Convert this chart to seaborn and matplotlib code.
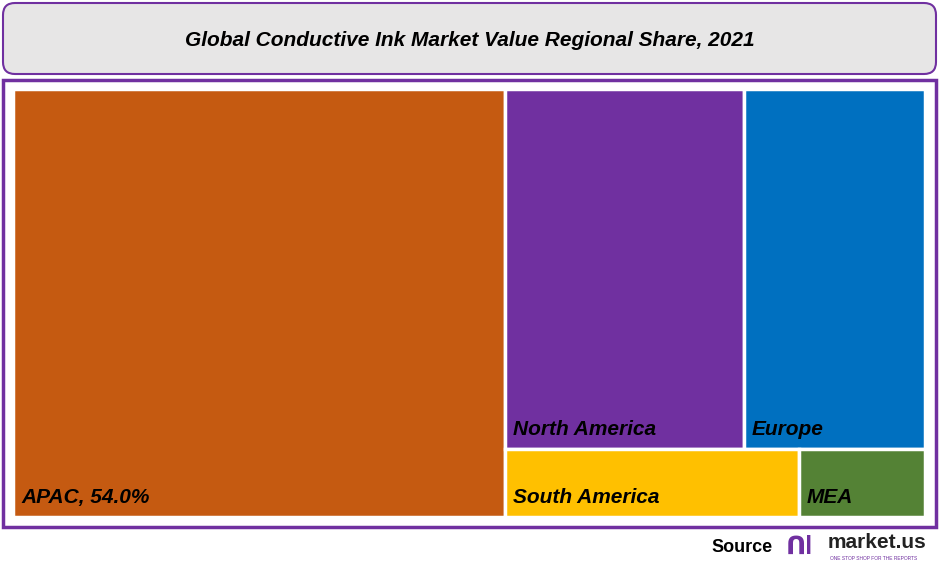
import matplotlib
matplotlib.use("Agg")
import matplotlib.pyplot as plt
from matplotlib.patches import Rectangle, FancyBboxPatch
import seaborn as sns

sns.set_theme(style="white")
plt.rcParams['font.family'] = ['Liberation Sans', 'DejaVu Sans']

regions = ["APAC", "North America", "Europe", "South America", "MEA"]
shares = [54.0, 22.0, 16.7, 5.1, 2.2]
colors = ["#C55A11", "#7030A0", "#0070C0", "#FFC000", "#548235"]
labels = ["APAC, 54.0%", "North America", "Europe", "South America", "MEA"]

fig = plt.figure(figsize=(9.4, 5.66), dpi=100)
ax = fig.add_axes([0, 0, 1, 1])
ax.set_xlim(0, 940); ax.set_ylim(566, 0); ax.axis("off")

# title box
ax.add_patch(FancyBboxPatch((3, 3), 933, 71, boxstyle="round,pad=0,rounding_size=12",
                            fc="#E7E6E6", ec="#7030A0", lw=1.5))
ax.text(470, 40, "Global Conductive Ink Market Value Regional Share, 2021", ha="center", va="center",
        fontsize=15, fontweight="bold", fontstyle="italic", color="black")
# treemap frame
ax.add_patch(Rectangle((3, 80), 933, 447, fc="white", ec="#7030A0", lw=2.5))

X0, Y0, W, H = 13, 89, 912, 428
total = sum(shares)
rects = []
wA = W * shares[0] / total
rects.append((X0, Y0, wA, H))
rx, rw = X0 + wA, W - wA
top = shares[1] + shares[2]; bot = shares[3] + shares[4]
rest = top + bot
hT = H * top / rest
x = rx
for v in shares[1:3]:
    w = rw * v / top; rects.append((x, Y0, w, hT)); x += w
x = rx
for v in shares[3:5]:
    w = rw * v / bot; rects.append((x, Y0 + hT, w, H - hT)); x += w

for (x, y, w, h), c, lab in zip(rects, colors, labels):
    ax.add_patch(Rectangle((x, y), w, h, fc=c, ec="white", lw=2.5))
    ax.text(x + 8, y + h - 10, lab, ha="left", va="bottom", fontsize=15,
            fontweight="bold", fontstyle="italic", color="black")

ax.text(773, 547, "Source", ha="right", va="center", fontsize=13, fontweight="bold", color="black")
ax.text(786, 547, "ᑎl", ha="left", va="center", fontsize=18, fontweight="bold", color="#7030A0")
ax.text(828, 543, "market.us", ha="left", va="center", fontsize=15, fontweight="bold", color="#222222")
ax.text(830, 559, "ONE STOP SHOP FOR THE REPORTS", ha="left", va="center", fontsize=3.5, color="#7030A0")

fig.savefig("out.png", dpi=100)
